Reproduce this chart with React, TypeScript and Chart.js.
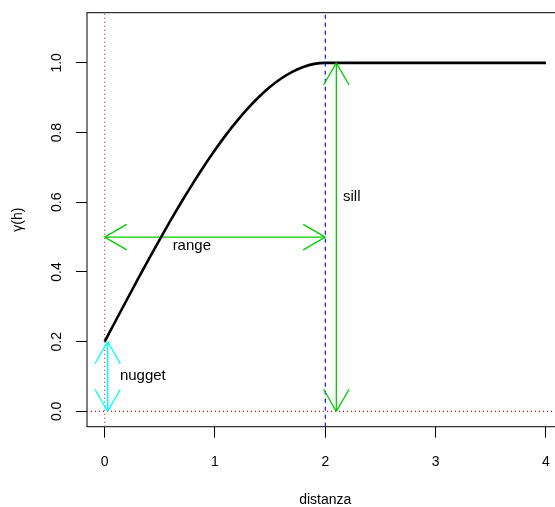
import React, { useEffect, useRef } from "react";
import { Chart, registerables } from "chart.js";

Chart.register(...registerables);

// ---- data ----
const curveH = [0, 0.1, 0.2, 0.3, 0.4, 0.5, 0.6, 0.7, 0.8, 0.9, 1.0, 1.1, 1.2, 1.3, 1.4, 1.5, 1.6, 1.7, 1.8, 1.9, 2.0, 2.5, 3.0, 3.5, 4.0];
const curveGamma = [0.2, 0.26, 0.3196, 0.3787, 0.4368, 0.4938, 0.5492, 0.6029, 0.6544, 0.7036, 0.75, 0.7935, 0.8336, 0.8702, 0.9028, 0.9313, 0.9552, 0.9744, 0.9884, 0.9971, 1.0, 1.0, 1.0, 1.0, 1.0];

const xTicks = [0, 1, 2, 3, 4];
const yTicks = [0, 0.2, 0.4, 0.6, 0.8, 1.0];
const xLimits = [-0.16, 4.16];
const yLimits = [-0.044, 1.144];

const nuggetValue = 0.2;
const sillValue = 1.0;
const rangeValue = 2.0;
const rangeArrowY = 0.5;
const sillArrowX = 2.1;
const nuggetArrowX = 0.027;

// reference lines (abline): value, colour, dash
const refVLines = [0, rangeValue];
const refVColors = ["#FF0000", "#0000FF"];
const refVDash = [[1, 3], [4, 4]];
const refHLines = [0];
const refHColors = ["#FF0000"];
const refHDash = [[1, 3]];

const annLabels = ["range", "sill", "nugget"];
const annX = [0.79, 2.24, 0.346];
const annY = [0.475, 0.615, 0.103];

const FONT = "'Liberation Sans', Arial, Helvetica, sans-serif";
const GREEN = "#00CD00";
const CYAN = "#00FFFF";

const CANVAS_W = 600;
const CANVAS_H = 507;
const AREA_TOP = 12.7;
const AREA_BOTTOM = 426.7;
const AREA_LEFT = 87;
const AREA_RIGHT = 563.6;

const boxPlugin = {
  id: "rbox",
  beforeDatasetsDraw(chart: any) {
    const { ctx, chartArea } = chart;
    ctx.save();
    ctx.strokeStyle = "#000";
    ctx.lineWidth = 1;
    ctx.strokeRect(chartArea.left, chartArea.top, chartArea.right - chartArea.left, chartArea.bottom - chartArea.top);
    ctx.restore();
  },
  afterDatasetsDraw(chart: any) {
    const { ctx, chartArea, scales } = chart;
    ctx.save();
    ctx.beginPath();
    ctx.rect(chartArea.left, chartArea.top, chartArea.right - chartArea.left, chartArea.bottom - chartArea.top);
    ctx.clip();
    ctx.lineCap = "butt";
    refVLines.forEach((v, i) => {
      const x = scales.x.getPixelForValue(v);
      ctx.lineWidth = 1.1;
      ctx.strokeStyle = refVColors[i];
      ctx.setLineDash(refVDash[i]);
      ctx.beginPath();
      ctx.moveTo(x, chartArea.bottom);
      ctx.lineTo(x, chartArea.top);
      ctx.stroke();
    });
    refHLines.forEach((v, i) => {
      const y = scales.y.getPixelForValue(v);
      ctx.lineWidth = 1.2;
      ctx.strokeStyle = refHColors[i];
      ctx.setLineDash(refHDash[i]);
      ctx.beginPath();
      ctx.moveTo(chartArea.left, y);
      ctx.lineTo(chartArea.right, y);
      ctx.stroke();
    });
    ctx.restore();
  },
};

const arrowPlugin = {
  id: "arrowheads",
  afterDatasetsDraw(chart: any) {
    const { ctx } = chart;
    const L = 25.5;
    const ang = Math.PI / 6;
    chart.data.datasets.forEach((ds: any, i: number) => {
      if (!ds.arrow) return;
      const meta = chart.getDatasetMeta(i);
      const p0 = meta.data[0];
      const p1 = meta.data[meta.data.length - 1];
      const ends = [
        [p1, p0],
        [p0, p1],
      ];
      ctx.save();
      ctx.strokeStyle = ds.borderColor;
      ctx.lineWidth = 1.3;
      ctx.setLineDash([]);
      for (const [from, tip] of ends) {
        const dx = tip.x - from.x;
        const dy = tip.y - from.y;
        const len = Math.hypot(dx, dy) || 1;
        const ux = dx / len;
        const uy = dy / len;
        ctx.beginPath();
        for (const s of [1, -1]) {
          const c = Math.cos(s * ang);
          const sn = Math.sin(s * ang);
          const rx = ux * c - uy * sn;
          const ry = ux * sn + uy * c;
          ctx.moveTo(tip.x, tip.y);
          ctx.lineTo(tip.x - L * rx, tip.y - L * ry);
        }
        ctx.stroke();
      }
      ctx.restore();
    });
  },
};

const textPlugin = {
  id: "annotText",
  afterDatasetsDraw(chart: any) {
    const { ctx, scales } = chart;
    ctx.save();
    ctx.fillStyle = "#000";
    ctx.font = `15px ${FONT}`;
    ctx.textAlign = "center";
    ctx.textBaseline = "middle";
    annLabels.forEach((lab, i) => {
      ctx.fillText(lab, scales.x.getPixelForValue(annX[i]), scales.y.getPixelForValue(annY[i]));
    });
    ctx.restore();
  },
};

function seg(x: number[], y: number[]) {
  return x.map((v, i) => ({ x: v, y: y[i] }));
}

export default function App() {
  const ref = useRef<HTMLCanvasElement>(null);

  useEffect(() => {
    if (!ref.current) return;
    const lineBase = { pointRadius: 0, pointHoverRadius: 0, fill: false, showLine: true };
    const chart = new Chart(ref.current, {
      type: "scatter",
      data: {
        datasets: [
          {
            ...lineBase,
            label: "gamma",
            data: seg(curveH, curveGamma),
            borderColor: "#000",
            borderWidth: 2.6,
            cubicInterpolationMode: "monotone",
          } as any,
          {
            ...lineBase,
            label: "range",
            arrow: true,
            data: seg([0, rangeValue], [rangeArrowY, rangeArrowY]),
            borderColor: GREEN,
            borderWidth: 1.3,
          } as any,
          {
            ...lineBase,
            label: "sill",
            arrow: true,
            data: seg([sillArrowX, sillArrowX], [0, sillValue]),
            borderColor: GREEN,
            borderWidth: 1.3,
          } as any,
          {
            ...lineBase,
            label: "nugget",
            arrow: true,
            data: seg([nuggetArrowX, nuggetArrowX], [0, nuggetValue]),
            borderColor: CYAN,
            borderWidth: 1.6,
          } as any,
        ],
      },
      options: {
        animation: false,
        responsive: false,
        devicePixelRatio: 1,
        events: [],
        layout: { padding: { top: AREA_TOP, right: CANVAS_W - AREA_RIGHT, left: 0, bottom: 0 } },
        plugins: {
          legend: { display: false },
          tooltip: { enabled: false },
        },
        scales: {
          x: {
            type: "linear",
            min: xLimits[0],
            max: xLimits[1],
            afterBuildTicks: (s: any) => {
              s.ticks = xTicks.map((v) => ({ value: v }));
            },
            afterFit: (s: any) => {
              s.height = CANVAS_H - AREA_BOTTOM;
              s.paddingLeft = 0;
              s.paddingRight = 0;
            },
            grid: {
              display: true,
              drawOnChartArea: false,
              drawTicks: true,
              tickLength: 11,
              tickColor: "#000",
              tickWidth: 1,
            },
            border: { display: false },
            ticks: {
              autoSkip: false,
              maxRotation: 0,
              minRotation: 0,
              padding: 16,
              color: "#000",
              font: { family: FONT, size: 14 },
              callback: (v: any) => String(v),
            },
            title: {
              display: true,
              text: "distanza",
              color: "#000",
              font: { family: FONT, size: 14, lineHeight: 1 },
              padding: { top: 0, bottom: 0 },
            },
          },
          y: {
            type: "linear",
            min: yLimits[0],
            max: yLimits[1],
            afterBuildTicks: (s: any) => {
              s.ticks = yTicks.map((v) => ({ value: v }));
            },
            afterFit: (s: any) => {
              s.width = AREA_LEFT;
              s.paddingTop = 0;
              s.paddingBottom = 0;
            },
            grid: {
              display: true,
              drawOnChartArea: false,
              drawTicks: true,
              tickLength: 11,
              tickColor: "#000",
              tickWidth: 1,
            },
            border: { display: false },
            ticks: {
              autoSkip: false,
              minRotation: 90,
              maxRotation: 90,
              crossAlign: "center",
              padding: 9.6,
              color: "#000",
              font: { family: FONT, size: 14 },
              callback: (v: any) => Number(v).toFixed(1),
            },
            title: {
              display: true,
              text: "γ(h)",
              color: "#000",
              font: { family: FONT, size: 14, lineHeight: 1 },
              padding: { top: 10.7, bottom: 0 },
            },
          },
        },
      },
      plugins: [boxPlugin, arrowPlugin, textPlugin],
    });
    return () => chart.destroy();
  }, []);

  return (
    <div
      style={{
        position: "absolute",
        left: 0,
        top: 0,
        width: 555,
        height: 507,
        overflow: "hidden",
        background: "#fff",
      }}
    >
      <canvas ref={ref} width={CANVAS_W} height={CANVAS_H} style={{ display: "block", width: CANVAS_W, height: CANVAS_H }} />
    </div>
  );
}
